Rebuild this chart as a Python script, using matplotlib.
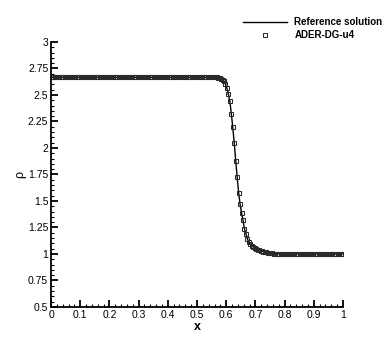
import matplotlib
matplotlib.use("Agg")
import matplotlib.pyplot as plt
from matplotlib.ticker import MultipleLocator

plt.rcParams['font.family'] = ['Liberation Sans', 'DejaVu Sans']

# cell centres (200 cells on [0,1])
x = [
    0.0025, 0.0075, 0.0125, 0.0175, 0.0225, 0.0275, 0.0325, 0.0375, 0.0425, 0.0475,
    0.0525, 0.0575, 0.0625, 0.0675, 0.0725, 0.0775, 0.0825, 0.0875, 0.0925, 0.0975,
    0.1025, 0.1075, 0.1125, 0.1175, 0.1225, 0.1275, 0.1325, 0.1375, 0.1425, 0.1475,
    0.1525, 0.1575, 0.1625, 0.1675, 0.1725, 0.1775, 0.1825, 0.1875, 0.1925, 0.1975,
    0.2025, 0.2075, 0.2125, 0.2175, 0.2225, 0.2275, 0.2325, 0.2375, 0.2425, 0.2475,
    0.2525, 0.2575, 0.2625, 0.2675, 0.2725, 0.2775, 0.2825, 0.2875, 0.2925, 0.2975,
    0.3025, 0.3075, 0.3125, 0.3175, 0.3225, 0.3275, 0.3325, 0.3375, 0.3425, 0.3475,
    0.3525, 0.3575, 0.3625, 0.3675, 0.3725, 0.3775, 0.3825, 0.3875, 0.3925, 0.3975,
    0.4025, 0.4075, 0.4125, 0.4175, 0.4225, 0.4275, 0.4325, 0.4375, 0.4425, 0.4475,
    0.4525, 0.4575, 0.4625, 0.4675, 0.4725, 0.4775, 0.4825, 0.4875, 0.4925, 0.4975,
    0.5025, 0.5075, 0.5125, 0.5175, 0.5225, 0.5275, 0.5325, 0.5375, 0.5425, 0.5475,
    0.5525, 0.5575, 0.5625, 0.5675, 0.5725, 0.5775, 0.5825, 0.5875, 0.5925, 0.5975,
    0.6025, 0.6075, 0.6125, 0.6175, 0.6225, 0.6275, 0.6325, 0.6375, 0.6425, 0.6475,
    0.6525, 0.6575, 0.6625, 0.6675, 0.6725, 0.6775, 0.6825, 0.6875, 0.6925, 0.6975,
    0.7025, 0.7075, 0.7125, 0.7175, 0.7225, 0.7275, 0.7325, 0.7375, 0.7425, 0.7475,
    0.7525, 0.7575, 0.7625, 0.7675, 0.7725, 0.7775, 0.7825, 0.7875, 0.7925, 0.7975,
    0.8025, 0.8075, 0.8125, 0.8175, 0.8225, 0.8275, 0.8325, 0.8375, 0.8425, 0.8475,
    0.8525, 0.8575, 0.8625, 0.8675, 0.8725, 0.8775, 0.8825, 0.8875, 0.8925, 0.8975,
    0.9025, 0.9075, 0.9125, 0.9175, 0.9225, 0.9275, 0.9325, 0.9375, 0.9425, 0.9475,
    0.9525, 0.9575, 0.9625, 0.9675, 0.9725, 0.9775, 0.9825, 0.9875, 0.9925, 0.9975,
]

rho = [
    2.667, 2.667, 2.667, 2.667, 2.667, 2.667, 2.667, 2.667, 2.667, 2.667,
    2.667, 2.667, 2.667, 2.667, 2.667, 2.667, 2.667, 2.667, 2.667, 2.667,
    2.667, 2.667, 2.667, 2.667, 2.667, 2.667, 2.667, 2.667, 2.667, 2.667,
    2.667, 2.667, 2.667, 2.667, 2.667, 2.667, 2.667, 2.667, 2.667, 2.667,
    2.667, 2.667, 2.667, 2.667, 2.667, 2.667, 2.667, 2.667, 2.667, 2.667,
    2.667, 2.667, 2.667, 2.667, 2.667, 2.667, 2.667, 2.667, 2.667, 2.667,
    2.667, 2.667, 2.667, 2.667, 2.667, 2.667, 2.667, 2.667, 2.667, 2.667,
    2.667, 2.667, 2.667, 2.667, 2.667, 2.667, 2.667, 2.667, 2.667, 2.667,
    2.667, 2.667, 2.667, 2.667, 2.667, 2.667, 2.667, 2.667, 2.667, 2.667,
    2.667, 2.667, 2.667, 2.667, 2.667, 2.667, 2.667, 2.667, 2.667, 2.667,
    2.667, 2.667, 2.667, 2.667, 2.667, 2.667, 2.667, 2.667, 2.667, 2.667,
    2.667, 2.667, 2.666, 2.665, 2.663, 2.659, 2.654, 2.645, 2.630, 2.602,
    2.562, 2.505, 2.440, 2.325, 2.195, 2.045, 1.880, 1.725, 1.580, 1.470,
    1.390, 1.318, 1.238, 1.190, 1.145, 1.110, 1.092, 1.075, 1.066, 1.056,
    1.048, 1.042, 1.036, 1.030, 1.026, 1.022, 1.019, 1.016, 1.013, 1.010,
    1.008, 1.006, 1.004, 1.003, 1.002, 1.001, 1.000, 1.000, 1.000, 1.000,
    1.000, 1.000, 1.000, 1.000, 1.000, 1.000, 1.000, 1.000, 1.000, 1.000,
    1.000, 1.000, 1.000, 1.000, 1.000, 1.000, 1.000, 1.000, 1.000, 1.000,
    1.000, 1.000, 1.000, 1.000, 1.000, 1.000, 1.000, 1.000, 1.000, 1.000,
    1.000, 1.000, 1.000, 1.000, 1.000, 1.000, 1.000, 1.000, 1.000, 1.000,
]

fig = plt.figure(figsize=(3.9, 3.47), dpi=100)
ax = fig.add_axes([0.1308, 0.1153, 0.7487, 0.7637])

ax.plot(x, rho, color='black', lw=1.0, label='Reference solution')
ax.plot(x, rho, ls='none', marker='s', ms=2.8, mfc='none', mec='#2a2a2a',
        mew=0.75, label='ADER-DG-u4')

ax.set_xlim(0, 1)
ax.set_ylim(0.5, 3)
ax.xaxis.set_major_locator(MultipleLocator(0.1))
ax.xaxis.set_minor_locator(MultipleLocator(0.02))
ax.yaxis.set_major_locator(MultipleLocator(0.25))
ax.yaxis.set_minor_locator(MultipleLocator(0.05))
ax.xaxis.set_major_formatter(plt.FuncFormatter(lambda v, p: ('%g' % round(v, 2))))
ax.yaxis.set_major_formatter(plt.FuncFormatter(lambda v, p: ('%g' % round(v, 2))))

for s in ['top', 'right']:
    ax.spines[s].set_visible(False)
for s in ['left', 'bottom']:
    ax.spines[s].set_linewidth(1.3)

ax.tick_params(which='major', direction='in', length=5, width=1.3, labelsize=7.5, pad=2)
ax.tick_params(which='minor', direction='in', length=2.5, width=0.8)

ax.set_xlabel('x', fontsize=9, fontweight='bold', labelpad=1)
ax.set_ylabel('ρ', fontsize=9, labelpad=1)

fig.legend(loc='upper left', bbox_to_anchor=(0.60, 0.975), frameon=False,
           prop={'size': 7, 'weight': 'bold'}, handlelength=4.5,
           handletextpad=0.8, labelspacing=0.3)

fig.savefig('out.png', dpi=100)
